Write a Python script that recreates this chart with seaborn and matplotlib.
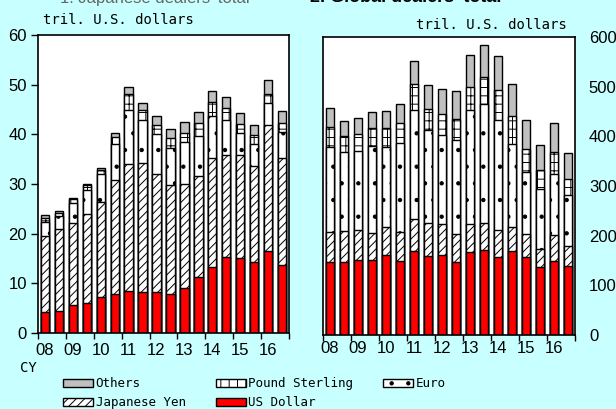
import numpy as np
import matplotlib
matplotlib.use('Agg')
import matplotlib.pyplot as plt
import matplotlib.patches as mpatches
import seaborn as sns

years = ['08', '09', '10', '11', '12', '13', '14', '15', '16']
periods = [y + h for y in years for h in ('H1', 'H2')]
currencies = ['US Dollar', 'Japanese Yen', 'Euro', 'Pound Sterling', 'Others']

# 1. Japanese dealers' total, tril. U.S. dollars
jp_usd = [4.3, 4.5, 5.6, 6.1, 7.3, 7.8, 8.5, 8.2, 8.2, 7.8, 9.0, 11.3, 13.3, 15.3, 15.2, 14.3, 16.6, 13.7]
jp_yen = [15.2, 16.5, 16.6, 17.9, 19.0, 23.0, 25.6, 26.1, 23.9, 21.9, 20.9, 20.3, 22.0, 20.6, 20.6, 19.3, 25.2, 21.6]
jp_eur = [2.8, 2.5, 3.9, 4.7, 5.7, 7.2, 10.8, 8.6, 8.0, 7.6, 8.5, 8.1, 8.3, 6.9, 4.5, 4.4, 4.6, 5.2]
jp_gbp = [0.8, 0.7, 0.8, 1.0, 0.8, 1.5, 3.3, 2.0, 1.8, 1.9, 1.9, 2.5, 2.9, 2.6, 1.7, 1.9, 1.8, 1.7]
jp_oth = [0.6, 0.3, 0.3, 0.4, 0.5, 0.8, 1.4, 1.5, 1.8, 1.9, 2.2, 2.3, 2.2, 2.2, 2.2, 1.9, 2.7, 2.5]

# 2. Global dealers' total, tril. U.S. dollars
gl_usd = [147, 146, 152, 151, 162, 150, 169, 159, 162, 146, 167, 171, 158, 170, 158, 136, 149, 139]
gl_yen = [60, 63, 59, 55, 56, 58, 65, 67, 61, 57, 56, 54, 53, 47, 45, 38, 52, 41]
gl_eur = [171, 160, 159, 174, 161, 179, 220, 186, 179, 189, 230, 241, 222, 167, 125, 119, 123, 102]
gl_gbp = [40, 31, 34, 36, 37, 39, 51, 44, 42, 43, 47, 54, 61, 57, 47, 40, 44, 33]
gl_oth = [39, 31, 32, 33, 35, 39, 47, 47, 51, 57, 63, 63, 68, 64, 58, 49, 58, 52]

# fill colour, hatch per currency (same order as currencies)
styles = [('#FF0000', None), ('white', '////'), ('white', '.'), ('white', '++'), ('#C0C0C0', None)]

bg = '#C8FFFF'
mono = 'DejaVu Sans Mono'
plt.rcParams['font.family'] = ['Liberation Sans', 'DejaVu Sans']
plt.rcParams['hatch.linewidth'] = 0.7

fig = plt.figure(figsize=(6.16, 4.09), dpi=100, facecolor=bg)
ax1 = fig.add_axes([38 / 616, 76 / 409, 251 / 616, 298 / 409])
ax2 = fig.add_axes([323 / 616, 74 / 409, 252 / 616, 298 / 409])


def draw_panel(ax, segs):
    tops = np.cumsum(np.array(segs, dtype=float), axis=0)
    # draw cumulative totals from the top down so each layer covers the next
    for i in reversed(range(len(currencies))):
        color, hatch = styles[i]
        sns.barplot(x=periods, y=tops[i], order=periods, color=color, saturation=1,
                    hatch=hatch, edgecolor='black', linewidth=1.0, width=0.6, ax=ax)
    ax.set_facecolor('white')
    ax.set_xlim(-0.5, 17.5)
    ax.set_xticks(range(0, 18, 2), years)
    ax.set_xticks(np.arange(-0.5, 18, 2), minor=True)
    ax.tick_params(axis='x', which='minor', length=4, width=1, direction='out')
    ax.set_xlabel('')
    ax.set_ylabel('')
    for s in ax.spines.values():
        s.set_linewidth(1.2)


draw_panel(ax1, [jp_usd, jp_yen, jp_eur, jp_gbp, jp_oth])
ax1.set_ylim(0, 60)
ax1.set_yticks(range(0, 61, 10))
ax1.tick_params(axis='y', length=5, width=1, direction='out', pad=3, labelsize=12)
ax1.tick_params(axis='x', which='major', length=0, pad=7, labelsize=12)

draw_panel(ax2, [gl_usd, gl_yen, gl_eur, gl_gbp, gl_oth])
ax2.set_ylim(0, 600)
ax2.set_yticks(range(0, 601, 100))
ax2.yaxis.tick_right()
ax2.tick_params(axis='y', length=0, pad=10, labelsize=12)
ax2.tick_params(axis='x', which='major', length=0, pad=4, labelsize=12)

fig.text(43 / 616, 1 - 20 / 409, 'tril. U.S. dollars', family=mono, fontsize=10, va='center')
fig.text(567 / 616, 1 - 25 / 409, 'tril. U.S. dollars', family=mono, fontsize=10, va='center', ha='right')
fig.text(20 / 616, 1 - 368 / 409, 'CY', family=mono, fontsize=10, va='center')

# panel titles, mostly cut off by the top edge as in the source
fig.text(60 / 616, 1 - 2.5 / 409, "1. Japanese dealers' total", fontsize=12, color='#666666', va='baseline')
fig.text(310 / 616, 1 - 2.5 / 409, "2. Global dealers' total", fontsize=13, fontweight='bold', va='baseline')

handles = {}
for name, (color, hatch) in zip(currencies, styles):
    handles[name] = mpatches.Patch(facecolor=color, hatch=hatch, edgecolor='black', linewidth=1.0, label=name)
order = ['Others', 'Japanese Yen', 'Pound Sterling', 'US Dollar', 'Euro']
fig.legend([handles[n] for n in order], order, ncol=3, loc='upper left',
           bbox_to_anchor=(63 / 616, 1 - 377 / 409), frameon=False, borderpad=0,
           borderaxespad=0, handlelength=2.4, handleheight=0.6, handletextpad=0.2,
           columnspacing=2.4, labelspacing=0.5, prop={'family': mono, 'size': 9})

fig.savefig('out.png', dpi=100, facecolor=bg)
